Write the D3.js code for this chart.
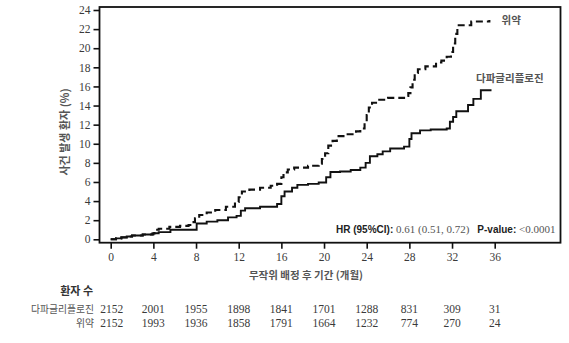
<!DOCTYPE html>
<html>
<head>
<meta charset="utf-8">
<script src="https://cdn.jsdelivr.net/npm/d3@7"></script>
<style>
  body { margin: 0; background: #fff; }
  svg { display: block; }
</style>
</head>
<body>
<svg id="chart" width="569" height="343"></svg>
<script>
// Kaplan-Meier cumulative incidence, months vs % of patients with event
const dapaMonths = [0, 0.5, 1, 1.5, 2, 3, 4, 4.5, 5.6, 8.06, 9, 10, 11, 11.8, 12.2, 12.6, 14, 15.6, 16, 16.3, 17, 17.5, 18.5, 19.5, 20.2, 20.6, 21.5, 22.5, 23.4, 23.9, 24.3, 25, 25.5, 26.2, 27.5, 28, 28.2, 29, 30, 31.5, 31.8, 32.1, 32.4, 33.5, 34.0, 34.7, 35.7];
const dapaValues = [0, 0.1, 0.2, 0.3, 0.4, 0.5, 0.63, 0.75, 1.0, 1.65, 1.85, 2.0, 2.3, 2.45, 3.0, 3.25, 3.4, 3.7, 4.5, 5.0, 5.4, 5.7, 5.8, 5.95, 6.5, 7.05, 7.1, 7.25, 7.5, 8.0, 8.7, 8.9, 9.2, 9.5, 9.7, 10.5, 11.1, 11.4, 11.5, 11.6, 12.3, 12.8, 13.4, 14.05, 14.7, 15.6, 15.6];

const placeboMonths = [0, 0.5, 1, 1.5, 2, 3, 3.9, 4.1, 4.5, 5.5, 6.5, 7.3, 7.6, 7.9, 8.3, 9, 9.8, 10.8, 11.65, 12, 12.3, 13, 14, 15, 15.6, 16, 16.2, 16.6, 17.2, 18.5, 19.5, 19.8, 20.1, 20.4, 20.8, 21.2, 22, 23, 23.4, 23.8, 24, 24.2, 24.5, 25, 26, 27.5, 27.9, 28.1, 28.3, 28.5, 28.8, 29.5, 30.5, 31, 31.5, 31.9, 32.1, 32.3, 32.5, 33.5, 33.8, 35.5];
const placeboValues = [0, 0.1, 0.2, 0.3, 0.4, 0.5, 0.6, 1.0, 1.1, 1.3, 1.4, 1.5, 1.8, 2.2, 2.55, 2.8, 3.07, 3.4, 3.9, 4.4, 5.0, 5.2, 5.4, 5.6, 5.8, 6.5, 7.0, 7.3, 7.5, 7.7, 7.9, 8.4, 9.0, 9.8, 10.3, 10.8, 11.0, 11.3, 11.6, 12.2, 13.0, 13.8, 14.3, 14.6, 14.8, 15.0, 15.3, 15.9, 16.7, 17.4, 17.8, 18.1, 18.5, 18.7, 19.1, 19.6, 20.5, 21.5, 22.4, 22.4, 22.8, 22.95];

const xTicks = [0, 4, 8, 12, 16, 20, 24, 28, 32, 36];
const yTicks = [0, 2, 4, 6, 8, 10, 12, 14, 16, 18, 20, 22, 24];

const groupNames = ["다파글리플로진", "위약"];
const atRiskDapa = [2152, 2001, 1955, 1898, 1841, 1701, 1288, 831, 309, 31];
const atRiskPlacebo = [2152, 1993, 1936, 1858, 1791, 1664, 1232, 774, 270, 24];

const svg = d3.select("#chart");
const serif = "'Liberation Serif', 'Times New Roman', serif";
const kor = "'Noto Sans CJK KR', sans-serif";
const sans = "'Liberation Sans', Arial, sans-serif";
const textGray = "#3a3a3a";
const korGray = "#555";

const frame = { left: 99.5, right: 560.5, top: 7, bottom: 242.7 };

const x = d3.scaleLinear().domain([0, 36]).range([110.7, 494.7]);
const y = d3.scaleLinear().domain([0, 24]).range([239.3, 10]);

// Y axis
const yAxis = svg.append("g")
  .attr("transform", `translate(${frame.left},0)`)
  .call(d3.axisLeft(y).tickValues(yTicks).tickSize(6).tickPadding(3).tickSizeOuter(0));
yAxis.select(".domain").remove();
yAxis.selectAll("line").attr("stroke", "#111").attr("stroke-width", 1.6);
yAxis.selectAll("text").attr("font-family", serif).attr("font-size", 11.5).attr("fill", textGray);

// X axis
const xAxis = svg.append("g")
  .attr("transform", `translate(0,${frame.bottom})`)
  .call(d3.axisBottom(x).tickValues(xTicks).tickSize(6).tickPadding(4).tickSizeOuter(0));
xAxis.select(".domain").remove();
xAxis.selectAll("line").attr("stroke", "#111").attr("stroke-width", 1.6);
xAxis.selectAll("text").attr("font-family", serif).attr("font-size", 11.5).attr("fill", textGray);

// Plot frame
svg.append("rect")
  .attr("x", frame.left).attr("y", frame.top)
  .attr("width", frame.right - frame.left).attr("height", frame.bottom - frame.top)
  .attr("fill", "none").attr("stroke", "#111").attr("stroke-width", 1.8);

// Curves
const line = d3.line().x(d => x(d[0])).y(d => y(d[1])).curve(d3.curveStepAfter);
const dapa = d3.zip(dapaMonths, dapaValues);
const plac = d3.zip(placeboMonths, placeboValues);

svg.append("path").datum(plac).attr("d", line)
  .attr("fill", "none").attr("stroke", "#111").attr("stroke-width", 2.1)
  .attr("stroke-dasharray", "7,4");
svg.append("path").datum(dapa).attr("d", line)
  .attr("fill", "none").attr("stroke", "#111").attr("stroke-width", 1.9);

// Curve labels
svg.append("text").attr("x", 501.5).attr("y", 24).text("위약")
  .attr("font-family", kor).attr("font-weight", "bold").attr("font-size", 10.5).attr("fill", korGray);
svg.append("text").attr("x", 476).attr("y", 82).text("다파글리플로진")
  .attr("font-family", kor).attr("font-weight", "bold").attr("font-size", 10.5).attr("fill", korGray);

// Hazard ratio annotation
const hr = svg.append("text").attr("x", 336).attr("y", 233);
hr.append("tspan").text("HR (95%CI): ").attr("font-family", sans).attr("font-weight", "bold").attr("font-size", 10).attr("fill", "#222");
hr.append("tspan").text("0.61 (0.51, 0.72)").attr("font-family", serif).attr("font-size", 11).attr("fill", "#555");
hr.append("tspan").attr("dx", 8).text("P-value: ").attr("font-family", sans).attr("font-weight", "bold").attr("font-size", 10).attr("fill", "#222");
hr.append("tspan").text("<0.0001").attr("font-family", serif).attr("font-size", 11).attr("fill", "#555");

// Axis titles
svg.append("text").attr("transform", "translate(69,132) rotate(-90)")
  .attr("text-anchor", "middle").text("사건 발생 환자 (%)")
  .attr("font-family", kor).attr("font-weight", "bold").attr("font-size", 11).attr("fill", korGray);
svg.append("text").attr("x", 306).attr("y", 279)
  .attr("text-anchor", "middle").text("무작위 배정 후 기간 (개월)")
  .attr("font-family", kor).attr("font-weight", "bold").attr("font-size", 10.5).attr("fill", korGray);

// Number at risk table
svg.append("text").attr("x", 93).attr("y", 295).attr("text-anchor", "end").text("환자 수")
  .attr("font-family", kor).attr("font-weight", "bold").attr("font-size", 11).attr("fill", "#333");

[atRiskDapa, atRiskPlacebo].forEach((row, i) => {
  const ry = 312.5 + i * 14;
  svg.append("text").attr("x", 94).attr("y", ry).attr("text-anchor", "end").text(groupNames[i])
    .attr("font-family", kor).attr("font-size", 9.8).attr("fill", korGray);
  svg.append("g").selectAll("text").data(row).join("text")
    .attr("x", (d, j) => x(xTicks[j]) + (j === 0 ? 1 : 0)).attr("y", ry)
    .attr("text-anchor", "middle").text(d => d)
    .attr("font-family", serif).attr("font-size", 11.5).attr("fill", textGray);
});
</script>
</body>
</html>
